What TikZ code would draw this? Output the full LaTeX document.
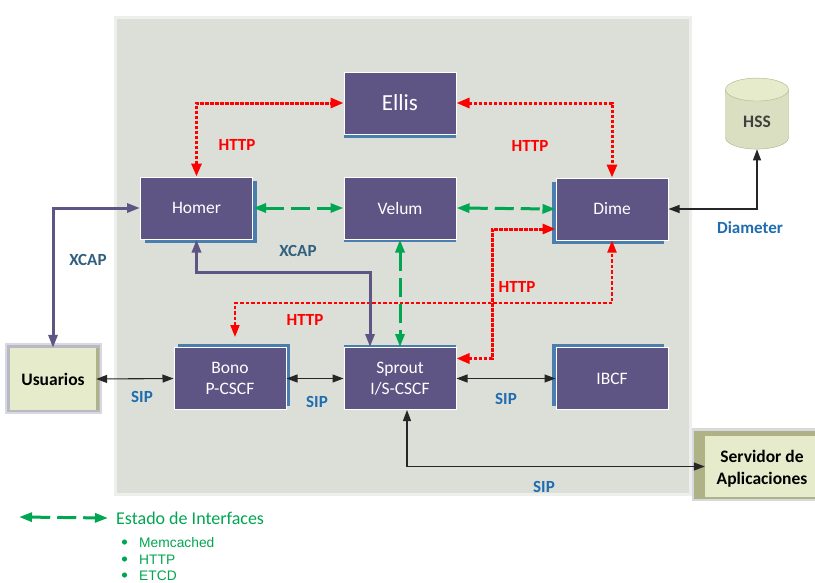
\documentclass[tikz,border=0pt]{standalone}
\usepackage{fontspec}
\setmainfont{Carlito}
\newfontfamily\listfont{Liberation Sans}
\usepackage{tikz}
\usetikzlibrary{arrows.meta, shadows, shapes.geometric}
\definecolor{panelgris}{HTML}{DBDFD7}
\definecolor{panelborde}{HTML}{EDEFEC}
\definecolor{cajamorado}{HTML}{5F5584}
\definecolor{cajasombra}{HTML}{4A7EAF}
\definecolor{apppalido}{HTML}{E6EBCB}
\definecolor{appoliva}{HTML}{AEB285}
\definecolor{appglow}{HTML}{B9B9C6}
\definecolor{verdeif}{HTML}{00A651}
\definecolor{rojohttp}{HTML}{FF0000}
\definecolor{azulsip}{HTML}{1F6CB0}
\definecolor{azulxcap}{HTML}{31607F}
\definecolor{negroflecha}{HTML}{262626}
\tikzset{
  caja/.style={draw=white, line width=1pt, fill=cajamorado, text=white, minimum width=112pt, minimum height=62pt, align=center, font=\fontsize{17.5}{21}\selectfont},
  sombra/.style 2 args={copy shadow={draw=none, fill=cajasombra, shadow xshift=#1pt, shadow yshift=#2pt}},
  app/.style={inner sep=0pt, align=center, font=\fontsize{17.5}{22}\selectfont\bfseries},
  etiq/.style={font=\fontsize{17}{20}\selectfont\bfseries},
  sip/.style={<->, >={Triangle[length=11pt, width=8pt]}, negroflecha, line width=1.1pt},
  xcap/.style={<->, >={Triangle[length=13pt, width=9pt]}, cajamorado, line width=3pt},
  estado/.style={<->, >={Triangle[length=13pt, width=9pt]}, verdeif, line width=3pt, dash pattern=on 19pt off 7pt},
  http/.style={<->, >={Triangle[length=13pt, width=10pt]}, rojohttp, line width=3pt, dash pattern=on 3.5pt off 1.5pt},
  httpfino/.style={<->, >={Triangle[length=12pt, width=9pt]}, rojohttp, line width=2pt, dash pattern=on 3.5pt off 2pt}
}
\begin{document}
\begin{tikzpicture}[x=1pt, y=-1pt]
\useasboundingbox (0,0) rectangle (815,582);
\fill[white] (0,0) rectangle (815,582);
\draw[panelborde, line width=3pt, fill=panelgris] (115,17) rectangle (690,494);

\fill[appglow!55] (5,343) rectangle (102,414);
\fill[appglow] (7,345) rectangle (100,412);
\fill[appoliva] (10,348) rectangle (99,410);
\fill[apppalido] (10,348) rectangle (96,410);
\fill[appglow!55] (692,428) rectangle (815,501);
\fill[appoliva] (694,431) rectangle (815,499);
\fill[apppalido] (705,436) rectangle (815,497);

\node[caja, sombra={0}{-4}, font=\fontsize{23}{27}\selectfont] (ellis) at (400,103) {Ellis};
\node[caja, sombra={4}{-4}] (homer) at (196.5,208) {Homer};
\node[caja, sombra={0}{-3}] (velum) at (400,208) {Velum};
\node[caja, sombra={-4}{-4}] (dime) at (612,209) {Dime};
\node[caja, sombra={4}{4}] (bono) at (230,378.5) {Bono\\P-CSCF};
\node[caja, sombra={0}{3}] (sprout) at (400,378.5) {Sprout\\I/S-CSCF};
\node[caja, sombra={-4}{4}] (ibcf) at (612,378.5) {IBCF};
\node[app, minimum width=86pt, minimum height=62pt] (usuarios) at (53,379) {Usuarios};
\node[app, minimum width=114pt, minimum height=61pt] (servidor) at (762,469) {Servidor de\\Aplicaciones};
\node[cylinder, shape border rotate=90, shape aspect=0.67, draw=appoliva, cylinder uses custom fill, cylinder end fill=apppalido, cylinder body fill=apppalido!95!black, minimum width=63pt, minimum height=71pt, text=black!75, font=\fontsize{17.5}{21}\selectfont\bfseries] (hss) at (757,122) {HSS};

\coordinate (xcapcodo) at (370,272);
\coordinate (httpcodo) at (235,303);
\coordinate (httpfin) at (235,337);
\coordinate (legizq) at (19,517);

\draw[http] (homer.north) |- (ellis.west);
\draw[http] (ellis.east) -| (dime.north);
\draw[http] ([yshift=20pt]sprout.east) -| (492,229) -- ([yshift=-20pt]dime.west);
\draw[httpfino] (httpfin) -- (httpcodo) -| (dime.south);
\draw[estado] (homer.east)--(velum.west);
\draw[estado] (velum.east)--(dime.west);
\draw[estado] (velum.south)--(sprout.north);
\draw[xcap] (usuarios.north) |- (homer.west);
\draw[xcap] (homer.south) |- (xcapcodo) -- ([xshift=-30pt]sprout.north);
\draw[sip] (usuarios.east)--(bono.west);
\draw[sip] (bono.east)--(sprout.west);
\draw[sip] (sprout.east)--(ibcf.west);
\draw[sip] ([xshift=7pt]sprout.south) |- ([yshift=2.5pt]servidor.west);
\draw[sip] (dime.east) -| (hss.south);

\node[etiq, rojohttp] (http1) at (237,145) {HTTP};
\node[etiq, rojohttp] (http2) at (530,146) {HTTP};
\node[etiq, rojohttp] (http3) at (517,287) {HTTP};
\node[etiq, rojohttp] (http4) at (305,320) {HTTP};
\node[etiq, azulxcap] (xcap1) at (88,260) {XCAP};
\node[etiq, azulxcap] (xcap2) at (298,251) {XCAP};
\node[etiq, azulsip] (diameter) at (750,228) {Diameter};
\node[etiq, azulsip] (sip1) at (142,397) {SIP};
\node[etiq, azulsip] (sip2) at (317,402) {SIP};
\node[etiq, azulsip] (sip3) at (506,399) {SIP};
\node[etiq, azulsip] (sip4) at (544,487) {SIP};

\node[anchor=west, inner sep=0pt, text=verdeif, font=\fontsize{18}{21}\selectfont] (leyenda) at (116,518) {Estado de Interfaces};
\draw[estado] (legizq)--([xshift=-8pt]leyenda.west);
\foreach \nombre/\yy in {Memcached/547, HTTP/564, ETCD/580} {
  \fill[verdeif] (124.5,\yy-5) circle (2.6pt);
  \node[anchor=base west, inner sep=0pt, text=verdeif, font=\listfont\fontsize{13.8}{16}\selectfont] (l\nombre) at (139,\yy) {\nombre};
}
\end{tikzpicture}
\end{document}
